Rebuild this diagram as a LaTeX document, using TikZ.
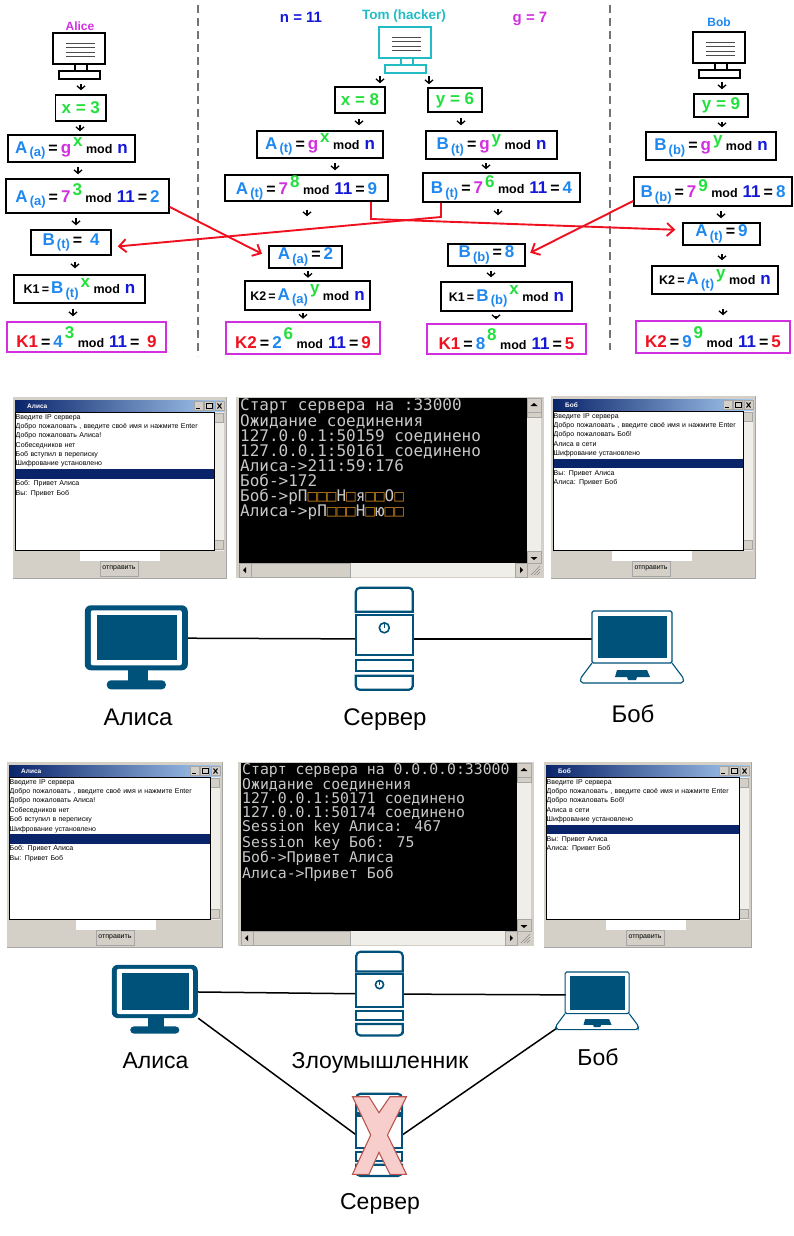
\documentclass[tikz,border=0pt]{standalone}
\usepackage{fontspec}
\setmainfont{Liberation Sans}
\newfontfamily\termfont{DejaVu Sans Mono}
\usetikzlibrary{arrows.meta, positioning}

\definecolor{keyblue}{HTML}{1E88F0}
\definecolor{keygreen}{HTML}{22E03C}
\definecolor{keypink}{HTML}{D22FE0}
\definecolor{keynavy}{HTML}{1418D8}
\definecolor{keyred}{HTML}{F01020}
\definecolor{hackerteal}{HTML}{22BDC4}
\definecolor{netblue}{HTML}{00527A}
\definecolor{wingray}{HTML}{D4D0C8}
\definecolor{winnavy}{HTML}{0A246A}
\definecolor{winsky}{HTML}{A6CAF0}
\definecolor{wintrack}{HTML}{EFEEE9}
\definecolor{nulbrown}{HTML}{B8741A}
\definecolor{crossfill}{HTML}{F8CECC}
\definecolor{crossline}{HTML}{B85450}

\newcommand{\tblue}[1]{\textcolor{keyblue}{#1}}
\newcommand{\tgreen}[1]{\textcolor{keygreen}{#1}}
\newcommand{\tpink}[1]{\textcolor{keypink}{#1}}
\newcommand{\tnavy}[1]{\textcolor{keynavy}{#1}}
\newcommand{\tred}[1]{\textcolor{keyred}{#1}}
\newcommand{\keyvar}[2]{\tblue{#1}\raisebox{-3.5pt}{\fontsize{13}{13}\selectfont\,\tblue{#2}}}
\newcommand{\upnum}[1]{\hspace{2pt}\raisebox{6.5pt}{\tgreen{#1}}}
\newcommand{\hinum}[1]{\hspace{2pt}\raisebox{9.5pt}{\tgreen{#1}}}
\newcommand{\modw}{{\fontsize{12.5}{13}\selectfont\ mod\hspace{5pt}}}
\newcommand{\eqw}{\hspace{3pt}{\fontsize{16}{16}\selectfont=}\hspace{3pt}}
\newcommand{\kname}[1]{{\fontsize{12.5}{13}\selectfont #1\,=\,}}
\newcommand{\badbyte}{\textcolor{nulbrown}{□}}

% box given by its corners
\newcommand{\putbox}[7]{\node (#1) [#2, minimum width={#5-#3}, minimum height={#6-#4}] at ({(#3+#5)/2},{(#4+#6)/2}) {#7};}

\tikzset{
    calcbox/.style = {draw, line width=1.5pt, inner sep=0pt, font=\bfseries\fontsize{17}{17}\selectfont},
    resultbox/.style = {calcbox, draw=keypink},
    iconbox/.style = {inner sep=0pt},
    flow/.style = {-{Straight Barb[length=3.5pt,width=8pt]}, line width=1.3pt, shorten <=#1, shorten >=#1},
    flow/.default = 4pt,
    redline/.style = {-{Straight Barb[length=7pt,width=13pt]}, keyred, line width=1.9pt},
    divider/.style = {draw=black!55, line width=1.4pt, dash pattern=on 8pt off 5pt},
    partyname/.style = {font=\bfseries\fontsize{12}{12}\selectfont},
    modname/.style = {font=\bfseries\fontsize{15}{15}\selectfont},
    netlabel/.style = {font=\fontsize{24}{24}\selectfont, inner sep=0pt},
    netline/.style = {line width=1.5pt},
    chattext/.style = {anchor=north west, inner sep=0pt, align=left, font=\fontsize{7}{9.35}\selectfont},
    navybar/.style = {anchor=north west, fill=winnavy, inner sep=0pt, minimum height=9.6pt},
    sendbtn/.style = {draw=black!35, fill=wingray, inner sep=0pt, minimum width=38pt, minimum height=15pt, font=\fontsize{7}{7}\selectfont},
    winbtn/.style = {draw=black!35, fill=wingray, line width=.5pt},
    termtext/.style = {anchor=north west, inner sep=0pt, align=left, text=black!22},
    pcicon/.pic = {
        \draw[#1, line width=1.7pt] (0,0) rectangle (52,31);
        \foreach \ly in {10,14.5,19,23} \draw[black!70, line width=.9pt] (13,\ly) -- (42,\ly);
        \draw[#1, line width=1.7pt] (22,31) rectangle (34,38);
        \draw[#1, line width=1.7pt] (6,38) rectangle (47,46);
    },
    deskpc/.pic = {
        \fill[netblue, rounded corners=6pt] (0,0) rectangle (103,65);
        \fill[white, rounded corners=2pt] (6,5) rectangle (97,60);
        \fill[netblue] (12,10) rectangle (92,55);
        \fill[netblue] (43,64) rectangle (63,76);
        \fill[netblue, rounded corners=4pt] (22,75) rectangle (81,84);
    },
    towerpc/.pic = {
        \begin{scope}[netblue, line width=2.2pt]
        \draw (0,24) [rounded corners=4pt] -- (0,0) -- (57,0) -- (57,10) [sharp corners] -- (57,24) -- cycle;
        \draw (0,27) rectangle (57,67);
        \draw (0,72) rectangle (57,83);
        \draw (0,88) [rounded corners=4pt] -- (0,102) -- (57,102) -- (57,95) [sharp corners] -- (57,88) -- cycle;
        \draw[line width=1.6pt] (28.5,40) circle (5);
        \draw[line width=1.6pt] (28.5,35) -- (28.5,40);
        \end{scope}
    },
    laptop/.pic = {
        \draw[netblue, line width=1.1pt, rounded corners=1.5pt] (12,0) rectangle (92,52);
        \fill[netblue] (17.5,5) rectangle (87,47);
        \draw[netblue, line width=1.1pt, rounded corners=2pt] (12,52) -- (0,68) -- (1,72) -- (103,72) -- (104,68) -- (92,52);
        \fill[netblue] (37,59) -- (67,59) -- (70,66) -- (57,66) -- (56,69) -- (48,69) -- (47,66) -- (35,66) -- cycle;
    },
}

% name, title, left, right, top, bottom, entry x, lines above and below the bar
\newcommand{\chatwin}[9]{%
    \pgfmathsetmacro{\wtext}{#4-#3-14.5}
    \fill[wingray] (#3,#5) rectangle (#4,#6);
    \draw[black!35, line width=.8pt] (#3,#6) -- (#4,#6) -- (#4,#5);
    \shade[left color=winnavy, right color=winsky] (#3+2,#5+3) rectangle (#4-2,#5+15);
    \node (#1-title) [anchor=west, inner sep=0pt, text=white, font=\bfseries\fontsize{6.5}{7}\selectfont] at (#3+14,#5+9) {#2};
    \foreach \bx in {32,21.5,11} \draw[winbtn] (#4-\bx,#5+4.5) rectangle +(9,9);
    \draw[line width=.9pt] (#4-30,#5+11.5) -- +(4,0);
    \draw[line width=.6pt] (#4-19.5,#5+6.5) rectangle +(5.5,5);
    \draw[line width=1pt] (#4-8.5,#5+6.5) -- +(4,5) (#4-4.5,#5+6.5) -- +(-4,5);
    \fill[wintrack] (#4-12,#5+15) rectangle (#4-2,#6-27.5);
    \draw[winbtn] (#4-11.5,#5+16) rectangle +(9,9);
    \draw[winbtn] (#4-11.5,#6-37.5) rectangle +(9,9);
    \draw[black, fill=white, line width=.8pt] (#3+2,#5+15) rectangle (#4-12,#6-27.5);
    \node (#1-top) [chattext, text width=\wtext pt] at (#3+2.5,#5+15.5) {#8};
    \node (#1-bar) [navybar, minimum width=\wtext pt] at (#1-top.south west) {};
    \node (#1-low) [chattext, text width=\wtext pt] at (#1-bar.south west) {#9};
    \fill[white] (#7,#6-27) rectangle +(80,10);
    \node (#1-send) [sendbtn] at (#7+39,#6-9.5) {отправить};
}

% name, left, right, top, bottom, thumb end, font size, leading, text
\newcommand{\termwin}[9]{%
    \fill[wingray] (#2,#4) rectangle (#3,#5);
    \fill[black] (#2+3,#4+1) rectangle (#3-17,#5-15);
    \fill[wintrack] (#2+3,#5-15) rectangle (#3-17,#5-1);
    \fill[wintrack] (#3-17,#4+1) rectangle (#3-3,#5-15);
    \draw[winbtn] (#2+3,#5-15) rectangle (#2+15,#5-1);
    \draw[winbtn] (#2+15,#5-15) rectangle (#6,#5-1);
    \draw[winbtn] (#3-29,#5-15) rectangle (#3-17,#5-1);
    \draw[winbtn] (#3-17,#4+1) rectangle (#3-3,#4+15);
    \draw[winbtn] (#3-17,#4+15) rectangle (#3-3,#4+20);
    \draw[winbtn] (#3-17,#5-27) rectangle (#3-3,#5-15);
    \fill (#2+7,#5-8) -- +(3,-3) -- +(3,3) -- cycle;
    \fill (#3-21,#5-8) -- +(-3,-3) -- +(-3,3) -- cycle;
    \fill (#3-10,#4+6) -- +(-3.5,3) -- +(3.5,3) -- cycle;
    \fill (#3-10,#5-18) -- +(-3.5,-3) -- +(3.5,-3) -- cycle;
    \foreach \gr in {3,6,9} \draw[black!45, line width=.6pt] (#3-4-\gr,#5-3) -- (#3-4,#5-3-\gr);
    \node (#1-log) [termtext, font=\termfont\fontsize{#7}{#8}\selectfont] at (#2+4,#4+1.5) {#9};
}

\begin{document}
\begin{tikzpicture}[x=1pt, y=-1pt]
    \useasboundingbox (0,0) rectangle (794,1236);

    % exchange of keys
    \draw[divider] (198,5) -- (198,356);
    \draw[divider] (610,5) -- (610,350);

    \node (nameAlice) [partyname, text=keypink] at (80,26) {Alice};
    \node (nameTom) [partyname, text=hackerteal, font=\bfseries\fontsize{13.5}{14}\selectfont] at (404,16) {Tom (hacker)};
    \node (nameBob) [partyname, text=keyblue] at (719,22) {Bob};
    \node (valN) [modname, text=keynavy] at (301,17) {n = 11};
    \node (valG) [modname, text=keypink] at (530,19) {g = 7};

    \pic at (53,33) {pcicon=black};
    \pic at (379,27) {pcicon=hackerteal};
    \pic at (693,32) {pcicon=black};
    \putbox{pcAlice}{iconbox}{53}{33}{105}{80}{}
    \putbox{pcTom}{iconbox}{379}{27}{431}{73}{}
    \putbox{pcBob}{iconbox}{693}{32}{745}{78}{}

    % Alice
    \putbox{xAlice}{calcbox}{55.5}{95}{106}{121}{\tgreen{x = 3}}
    \putbox{eqAlice}{calcbox}{8}{135}{135}{162}{\keyvar{A}{(a)}\eqw\tpink{g}\upnum{x}\modw\tnavy{n}}
    \putbox{valAlice}{calcbox}{6}{179}{169}{213}{\keyvar{A}{(a)}\eqw\tpink{7}\upnum{3}\modw\tnavy{11}\eqw\tblue{2}}
    \putbox{inAlice}{calcbox}{31}{230}{111}{255}{\keyvar{B}{(t)}\eqw\ \tblue{4}}
    \putbox{keyAlice}{calcbox}{14}{275}{145}{303}{\kname{K1}\keyvar{B}{(t)}\upnum{x}\modw\tnavy{n}}
    \putbox{resAlice}{resultbox}{7}{322}{166}{352}{\tred{K1}\eqw\tblue{4}\hinum{3}\modw\tnavy{11}\eqw\ \tred{9}}

    % Tom, left column
    \putbox{xTom}{calcbox}{335}{87}{385}{113}{\tgreen{x = 8}}
    \putbox{eqTomA}{calcbox}{257}{131}{383}{158}{\keyvar{A}{(t)}\eqw\tpink{g}\upnum{x}\modw\tnavy{n}}
    \putbox{valTomA}{calcbox}{225}{175}{388}{201}{\keyvar{A}{(t)}\eqw\tpink{7}\upnum{8}\modw\tnavy{11}\eqw\tblue{9}}
    \putbox{inTomA}{calcbox}{269}{246}{342}{268}{\keyvar{A}{(a)}\eqw\tblue{2}}
    \putbox{keyTomA}{calcbox}{245}{281}{370}{310}{\kname{K2}\keyvar{A}{(a)}\upnum{y}\modw\tnavy{n}}
    \putbox{resTomA}{resultbox}{226}{322}{380}{354}{\tred{K2}\eqw\tblue{2}\hinum{6}\modw\tnavy{11}\eqw\tred{9}}

    % Tom, right column
    \putbox{yTom}{calcbox}{428}{88}{482}{112}{\tgreen{y = 6}}
    \putbox{eqTomB}{calcbox}{426}{131}{557}{159}{\keyvar{B}{(t)}\eqw\tpink{g}\upnum{y}\modw\tnavy{n}}
    \putbox{valTomB}{calcbox}{423}{173}{580}{202}{\keyvar{B}{(t)}\eqw\tpink{7}\upnum{6}\modw\tnavy{11}\eqw\tblue{4}}
    \putbox{inTomB}{calcbox}{448}{244}{525}{266}{\keyvar{B}{(b)}\eqw\tblue{8}}
    \putbox{keyTomB}{calcbox}{441}{282}{572}{311}{\kname{K1}\keyvar{B}{(b)}\upnum{x}\modw\tnavy{n}}
    \putbox{resTomB}{resultbox}{427}{324}{586}{354}{\tred{K1}\eqw\tblue{8}\hinum{8}\modw\tnavy{11}\eqw\tred{5}}

    % Bob
    \putbox{yBob}{calcbox}{694}{94}{748}{117}{\tgreen{y = 9}}
    \putbox{eqBob}{calcbox}{646}{132}{776}{160}{\keyvar{B}{(b)}\eqw\tpink{g}\upnum{y}\modw\tnavy{n}}
    \putbox{valBob}{calcbox}{634}{177}{792}{206}{\keyvar{B}{(b)}\eqw\tpink{7}\upnum{9}\modw\tnavy{11}\eqw\tblue{8}}
    \putbox{inBob}{calcbox}{683}{223}{760}{245}{\keyvar{A}{(t)}\eqw\tblue{9}}
    \putbox{keyBob}{calcbox}{652}{266}{778}{294}{\kname{K2}\keyvar{A}{(t)}\upnum{y}\modw\tnavy{n}}
    \putbox{resBob}{resultbox}{636}{321}{790}{353}{\tred{K2}\eqw\tblue{9}\hinum{9}\modw\tnavy{11}\eqw\tred{5}}

    \draw[flow] (81,0 |- pcAlice.south) -- (81,0 |- xAlice.north);
    \draw[flow=3pt] (80,0 |- xAlice.south) -- (80,0 |- eqAlice.north);
    \draw[flow] (78,0 |- eqAlice.south) -- (78,0 |- valAlice.north);
    \draw[flow] (76,0 |- valAlice.south) -- (76,0 |- inAlice.north);
    \draw[flow=6pt] (75,0 |- inAlice.south) -- (75,0 |- keyAlice.north);
    \draw[flow=5pt] (73,0 |- keyAlice.south) -- (73,0 |- resAlice.north);

    \draw[flow=3pt] (380,0 |- pcTom.south) -- (380,0 |- xTom.north);
    \draw[flow=3pt] (429,0 |- pcTom.south) -- (429,0 |- yTom.north);
    \draw[flow=5pt] (359,0 |- xTom.south) -- (359,0 |- eqTomA.north);
    \draw[flow=5pt] (461,0 |- yTom.south) -- (461,0 |- eqTomB.north);
    \draw[flow] (335,0 |- eqTomA.south) -- (335,0 |- valTomA.north);
    \draw[flow=3pt] (486,0 |- eqTomB.south) -- (486,0 |- valTomB.north);
    \draw[flow, shorten <=8pt, shorten >=29pt] (307,0 |- valTomA.south) -- (307,0 |- inTomA.north);
    \draw[flow, shorten <=6pt, shorten >=28pt] (498,0 |- valTomB.south) -- (498,0 |- inTomB.north);
    \draw[flow=2.5pt] (308,0 |- inTomA.south) -- (308,0 |- keyTomA.north);
    \draw[flow] (491,0 |- inTomB.south) -- (491,0 |- keyTomB.north);
    \draw[flow=2.5pt] (303,0 |- keyTomA.south) -- (303,0 |- resTomA.north);
    \draw[flow] (496,0 |- keyTomB.south) -- (496,0 |- resTomB.north);

    \draw[flow] (722,0 |- pcBob.south) -- (722,0 |- yBob.north);
    \draw[flow] (722,0 |- yBob.south) -- (722,0 |- eqBob.north);
    \draw[flow] (721,0 |- valBob.south) -- (721,0 |- inBob.north);
    \draw[flow, shorten <=8pt, shorten >=5pt] (722,0 |- inBob.south) -- (722,0 |- keyBob.north);
    \draw[flow, shorten <=14pt, shorten >=5pt] (723,0 |- keyBob.south) -- (723,0 |- resBob.north);

    \draw[redline, shorten >=7pt] ([yshift=-11pt]valAlice.east) -- (inTomA.west);
    \draw[redline, shorten >=6pt] (441,0 |- valTomB.south) -- (441,217) -- ([yshift=-4.5pt]inAlice.east);
    \draw[redline, shorten >=7pt] (371,0 |- valTomA.south) -- (371,219) -- ([yshift=4pt]inBob.west);
    \draw[redline, shorten >=5pt] ([yshift=-9.5pt]valBob.west) -- (inTomB.east);

    % first run: windows
    \chatwin{alisaA}{Алиса}{13}{226}{397}{578}{80}{%
        \strut Введите IP сервера\\Добро пожаловать , введите своё имя и нажмите Enter\\Добро пожаловать Алиса!\\Собеседников нет\\Боб вступил в переписку\\Шифрование установлено\strut}{%
        \strut Боб: Привет Алиса\\Вы: Привет Боб}
    \termwin{srvA}{236}{544}{397}{578}{350}{16}{15}{%
        Старт сервера на :33000\\Ожидание соединения\\127.0.0.1:50159 соединено\\127.0.0.1:50161 соединено\\Алиса->211:59:176\\Боб->172\\Боб->рП\badbyte\badbyte\badbyte Н\badbyte я\badbyte\badbyte О\badbyte\\Алиса->рП\badbyte\badbyte\badbyte Н\badbyte ю\badbyte\badbyte}
    \chatwin{bobA}{Боб}{551}{755}{396}{578}{612}{%
        \strut Введите IP сервера\\Добро пожаловать , введите своё имя и нажмите Enter\\Добро пожаловать Боб!\\Алиса в сети\\Шифрование установлено\strut}{%
        \strut Вы: Привет Алиса\\Алиса: Привет Боб}

    % first run: network
    \node (aliceA) [iconbox, minimum width=103pt, minimum height=65pt] at (136.5,638) {};
    \node (serverA) [iconbox, minimum width=57pt, minimum height=102pt] at (384.5,639) {};
    \node (bobA) [iconbox, minimum width=80pt, minimum height=56pt] at (632,639) {};
    \draw[netline] (aliceA) -- (serverA);
    \draw[netline] (serverA) -- (bobA);
    \pic at (aliceA.north west) {deskpc};
    \pic at (serverA.north west) {towerpc};
    \pic at (580,611) {laptop};
    \node (labelAliceA) [netlabel] at (138,717) {Алиса};
    \node (labelServerA) [netlabel] at (385,720) {Сервер};
    \node (labelBobA) [netlabel] at (633,714) {Боб};

    % second run: windows
    \chatwin{alisaB}{Алиса}{7}{222}{762}{947}{76}{%
        \strut Введите IP сервера\\Добро пожаловать , введите своё имя и нажмите Enter\\Добро пожаловать Алиса!\\Собеседников нет\\Боб вступил в переписку\\Шифрование установлено\strut}{%
        \strut Боб: Привет Алиса\\Вы: Привет Боб}
    \termwin{srvB}{238}{534}{762}{946}{350}{14.8}{14}{%
        Старт сервера на 0.0.0.0:33000\\Ожидание соединения\\127.0.0.1:50171 соединено\\127.0.0.1:50174 соединено\\Session key Алиса: 467\\Session key Боб: 75\\Боб->Привет Алиса\\Алиса->Привет Боб}
    \chatwin{bobB}{Боб}{544}{751}{762}{947}{606}{%
        \strut Введите IP сервера\\Добро пожаловать , введите своё имя и нажмите Enter\\Добро пожаловать Боб!\\Алиса в сети\\Шифрование установлено\strut}{%
        \strut Вы: Привет Алиса\\Алиса: Привет Боб}

    % second run: network
    \node (aliceB) [iconbox, minimum width=86pt, minimum height=53pt] at (155,991.5) {};
    \node (hackerB) [iconbox, minimum width=46.5pt, minimum height=84pt] at (379.75,994) {};
    \node (bobB) [iconbox, minimum width=62pt, minimum height=46pt] at (597,995) {};
    \node (serverB) [iconbox, minimum width=45.5pt, minimum height=82pt] at (379.25,1135) {};
    \coordinate (bobBase) at (557,1028);
    \draw[netline] (aliceB) -- (hackerB);
    \draw[netline] (hackerB) -- (bobB);
    \draw[netline] (aliceB.south east) -- (serverB.west);
    \draw[netline] (bobBase) -- (serverB.east);
    \pic[xscale=.835, yscale=.82] at (aliceB.north west) {deskpc};
    \pic[xscale=.815, yscale=.82] at (hackerB.north west) {towerpc};
    \pic[scale=.8] at (555.5,972) {laptop};
    \pic[xscale=.8, yscale=.805] at (serverB.north west) {towerpc};
    \draw[draw=crossline, fill=crossfill, line width=1.1pt] (352.5,1096.7) -- (369,1096.7) -- (379,1112.7) -- (390,1096.7) -- (406.4,1096.7) -- (387.5,1135) -- (406.4,1174.3) -- (390,1174.3) -- (379,1152.3) -- (369,1174.3) -- (352.5,1174.3) -- (370.7,1135) -- cycle;
    \node (labelAliceB) [netlabel, font=\fontsize{23}{23}\selectfont] at (155.5,1061) {Алиса};
    \node (labelHackerB) [netlabel, font=\fontsize{23}{23}\selectfont] at (380,1063) {Злоумышленник};
    \node (labelBobB) [netlabel, font=\fontsize{23}{23}\selectfont] at (598,1057) {Боб};
    \node (labelServerB) [netlabel, font=\fontsize{23}{23}\selectfont] at (380,1204) {Сервер};
\end{tikzpicture}
\end{document}
